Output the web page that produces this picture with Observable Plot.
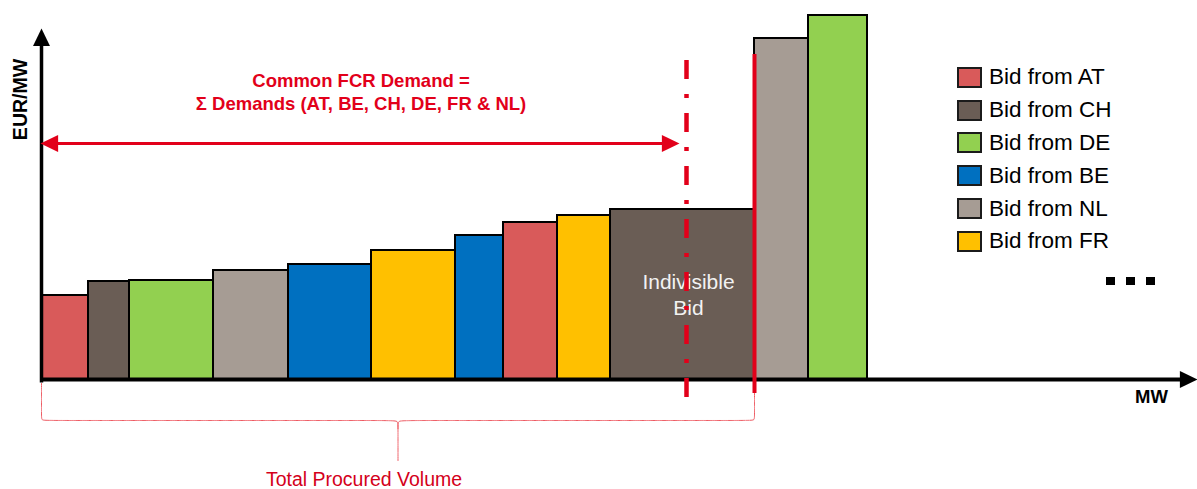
<!DOCTYPE html>
<html><head><meta charset="utf-8">
<script src="https://cdn.jsdelivr.net/npm/d3@7"></script>
<script src="https://cdn.jsdelivr.net/npm/@observablehq/plot@0.6"></script>
<style>
body{margin:0;background:#fff;font-family:"Liberation Sans",Arial,sans-serif}
#wrap{position:relative;width:1197px;height:489px}
#legend{position:absolute;left:957px;top:61px}
.row{display:flex;align-items:center;height:32.8px}
.sw{width:21px;height:17px;border:2.5px solid #1b1b1b;margin-right:7px;box-sizing:content-box}
.lb{font-size:22.5px;color:#000;line-height:22px}
.more{position:absolute;left:1106px;top:277px;display:flex;gap:11px}
.more div{width:9px;height:8px;background:#000}
</style></head><body><div id="wrap"></div>
<script>
// ---- data ----
const countries = ["AT","CH","DE","NL","BE","FR","BE","AT","FR","CH","NL","DE"];
const volumes   = [94, 82, 168, 150, 166, 168, 96, 108, 106, 288, 108, 118];      // MW
const prices    = [8.4, 9.8, 9.9, 10.9, 11.5, 12.9, 14.4, 15.7, 16.4, 17.0, 34.1, 36.4]; // EUR/MW
const legendCountries = ["AT","CH","DE","BE","NL","FR"];
const legendColors    = ["#d95a5a","#6a5d55","#92d050","#0070c0","#a69c94","#ffc000"];
const commonDemand = 1290;      // MW
const indivisibleIndex = 9;
const demandArrowPrice = 23.6;  // level of the demand arrow
const xMax = 2312, yMin = -11, yMax = 37.9, yAxisTip = 35.1;

// ---- derived ----
let acc = 0;
const bars = countries.map((c, i) => {
  const b = {country: c, x1: acc, x2: acc + volumes[i], price: prices[i]};
  acc += volumes[i];
  return b;
});
const procured = bars[indivisibleIndex].x2;
const C = procured / 2;
const yT = -0.4, yR = -1.4, yM = -4.1, yTip = -8.1;
const brace = [
  ...[[0,yT],[0,yM+0.5],[0,yM],[10,yM],[C-10,yM],[C,yM],[C,yM-0.8],[C,yTip]].map(p => [...p, "L"]),
  ...[[procured,yR],[procured,yM+0.5],[procured,yM],[procured-10,yM],[C+10,yM],[C,yM],[C,yM-0.8]].map(p => [...p, "R"])
];

const RED = "#e2001a";
const arrowHead = {
  draw(ctx, size) {
    const r = Math.sqrt(size / Math.PI);
    const L = 2.2 * r, h = 1.06 * r;
    ctx.moveTo(0, 0); ctx.lineTo(h, L); ctx.lineTo(-h, L); ctx.closePath();
  }
};
const ib = bars[indivisibleIndex];

const chart = Plot.plot({
  width: 1197, height: 489,
  marginLeft: 41, marginRight: 0, marginTop: 0, marginBottom: 0,
  x: {domain: [0, xMax], axis: null},
  y: {domain: [yMin, yMax], axis: null},
  color: {domain: legendCountries, range: legendColors},
  style: {fontFamily: "Liberation Sans, Arial, sans-serif", background: "transparent", overflow: "visible"},
  marks: [
    Plot.rect(bars, {x1: "x1", x2: "x2", y1: 0, y2: "price", fill: "country", stroke: "#000", strokeWidth: 2}),
    Plot.text([ib], {x: d => (d.x1 + d.x2) / 2, y: d => d.price / 2, dx: 6, dy: -1,
      text: () => "Indivisible\nBid", fill: "#f2f2f2", fontSize: 21, lineHeight: 1.24}),
    // axes
    Plot.ruleX([0], {y1: -0.35, y2: 34.0, stroke: "#000", strokeWidth: 3.5}),
    Plot.ruleY([0], {x1: -1, x2: xMax - 10, stroke: "#000", strokeWidth: 4}),
    Plot.dot([0], {x: 0, y: yAxisTip, symbol: arrowHead, r: 8, fill: "#000", stroke: "none"}),
    Plot.dot([0], {x: xMax, y: 0, symbol: arrowHead, r: 8, fill: "#000", stroke: "none", rotate: 90}),
    Plot.text(["EUR/MW"], {x: 0, y: 28.0, dx: -21, rotate: -90, text: d => d, fontWeight: "bold", fontSize: 19.5, fill: "#000"}),
    Plot.text(["MW"], {x: xMax, y: 0, dx: -46, dy: 18, text: d => d, fontWeight: "bold", fontSize: 18.5, fill: "#000"}),
    // procured volume line and demand line
    Plot.ruleX([procured], {y1: 32.5, y2: -1.4, stroke: RED, strokeWidth: 4}),
    Plot.ruleX([commonDemand], {y1: 31.9, y2: -1.8, stroke: RED, strokeWidth: 4.5, strokeDasharray: "19,15,4,15"}),
    // demand arrow
    Plot.arrow([0], {x1: 0, x2: commonDemand, y1: demandArrowPrice, y2: demandArrowPrice,
      stroke: RED, strokeWidth: 3.2, headLength: 0, insetStart: 6, insetEnd: 16}),
    Plot.dot([0], {x: 0, y: demandArrowPrice, dx: -1, symbol: arrowHead, r: 8, fill: RED, stroke: "none", rotate: -90}),
    Plot.dot([0], {x: commonDemand, y: demandArrowPrice, dx: -7, symbol: arrowHead, r: 8, fill: RED, stroke: "none", rotate: 90}),
    Plot.text(["Common FCR Demand =\nΣ Demands (AT, BE, CH, DE, FR & NL)"], {x: commonDemand / 2, y: demandArrowPrice,
      dx: -3, dy: -52, text: d => d, fill: RED, fontWeight: "bold", fontSize: 18.5, lineHeight: 1.25}),
    // brace + label
    Plot.line(brace, {x: d => d[0], y: d => d[1], z: d => d[2], curve: "basis", stroke: "#ee5a62", strokeWidth: 1, strokeDasharray: "1.3,0.9"}),
    Plot.text(["Total Procured Volume"], {x: C, y: -10.0, dx: -34, text: d => d, fill: "#d4001a", fontSize: 19.5})
  ]
});

const wrap = document.getElementById("wrap");
wrap.appendChild(chart);
const leg = document.createElement("div");
leg.id = "legend";
const cs = chart.scale("color");
cs.domain.forEach((c, i) => {
  const row = document.createElement("div");
  row.className = "row";
  row.innerHTML = `<div class="sw" style="background:${cs.range[i]}"></div><div class="lb">Bid from ${c}</div>`;
  leg.appendChild(row);
});
wrap.appendChild(leg);
const more = document.createElement("div");
more.className = "more";
more.innerHTML = "<div></div><div></div><div></div>";
wrap.appendChild(more);
</script></body></html>
